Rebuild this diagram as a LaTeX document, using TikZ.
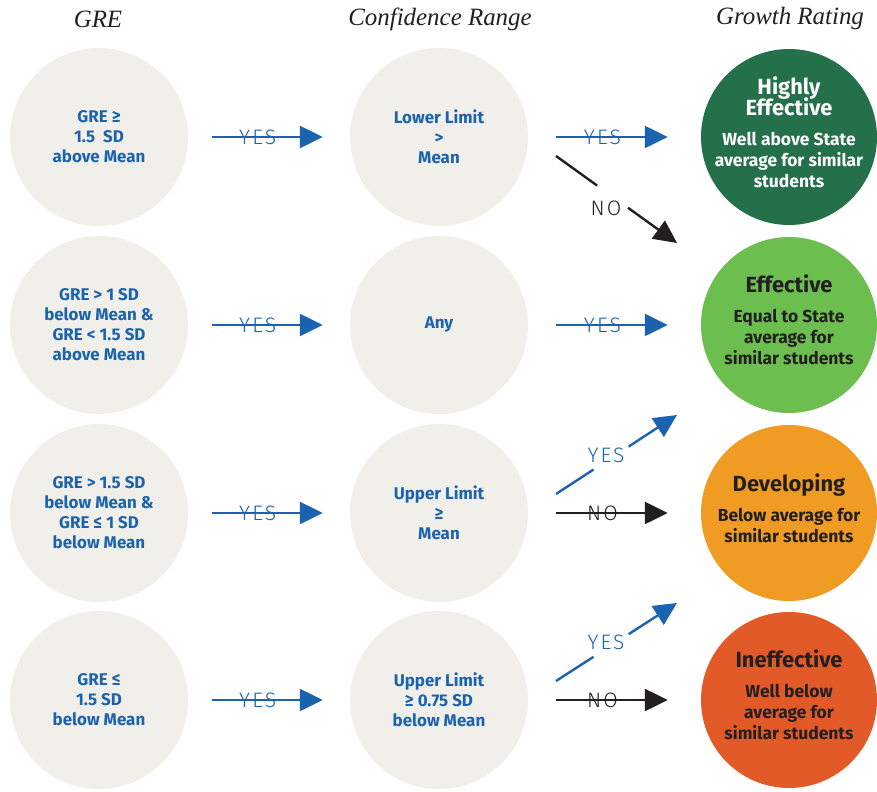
\documentclass[tikz,border=0pt]{standalone}
\usepackage{fontspec}
\setmainfont{Fira Sans}
\newfontfamily\titlefont{Liberation Serif}
\newfontfamily\labfont{Fira Sans Light}
\usetikzlibrary{arrows.meta,calc}
\definecolor{gblue}{HTML}{1B63AE}
\definecolor{gpale}{HTML}{F1EFE9}
\definecolor{gdark}{HTML}{231F20}
\definecolor{hegreen}{HTML}{23704A}
\definecolor{efgreen}{HTML}{6CBE4E}
\definecolor{dvorange}{HTML}{F09B23}
\definecolor{inred}{HTML}{E25A28}
\tikzset{
	crit/.style={circle,fill=gpale,minimum size=178bp,inner sep=0pt,text=gblue,align=center,
		font=\bfseries\fontsize{17}{20}\selectfont},
	rating/.style={circle,minimum size=176bp,inner sep=0pt},
	ratetext/.style={text=gdark,align=center,inner sep=0pt,
		font=\bfseries\fontsize{17.5}{21}\selectfont},
	colhead/.style={font=\titlefont\itshape\fontsize{25}{30}\selectfont,text=gdark},
	yesline/.style={draw=gblue,line width=2.4bp},
	noline/.style={draw=gdark,line width=2.4bp},
	yesarrow/.style={yesline,-{Triangle[length=23bp,width=22bp]}},
	noarrow/.style={noline,-{Triangle[length=23bp,width=22bp]}},
	yeslab/.style={text=gblue,font=\labfont\fontsize{21}{21}\selectfont\addfontfeature{LetterSpace=10}},
	nolab/.style={text=gdark,font=\labfont\fontsize{21}{21}\selectfont\addfontfeature{LetterSpace=10}}
}
\newcommand{\rhead}[1]{{\fontsize{22}{19}\selectfont #1}}

\begin{document}
\begin{tikzpicture}[x=1bp,y=-1bp]
	\useasboundingbox[fill=white] (0,0) rectangle (877,792);
	\node[colhead] (h1) at (98,19) {GRE};
	\node[colhead] (h2) at (440,19) {Confidence Range};
	\node[colhead] (h3) at (790,19) {Growth Rating};

	\node[crit] (g1) at (99,137) {GRE ≥\\1.5~~SD\\above Mean};
	\node[crit] (g2) at (99,325) {GRE > 1 SD\\below Mean \&\\GRE < 1.5 SD\\above Mean};
	\node[crit] (g3) at (99,513) {GRE > 1.5 SD\\below Mean \&\\GRE ≤ 1 SD\\below Mean};
	\node[crit] (g4) at (99,700) {GRE ≤\\1.5 SD\\below Mean};

	\node[crit] (c1) at (439,137) {Lower Limit\\>\\Mean};
	\node[crit] (c2) at (439,325) {Any};
	\node[crit] (c3) at (439,513) {Upper Limit\\≥\\Mean};
	\node[crit] (c4) at (439,700) {Upper Limit\\≥ 0.75 SD\\below Mean};

	\node[rating,fill=hegreen] (r1) at (789,137) {};
	\node[rating,fill=efgreen] (r2) at (789,325) {};
	\node[rating,fill=dvorange] (r3) at (789,513) {};
	\node[rating,fill=inred] (r4) at (789,700) {};
	\node[ratetext,text=white] (r1t) at ($(r1)+(0,-5)$)
		{\rhead{Highly}\\[-2bp]\rhead{Effective}\\[9bp]Well above State\\average for similar\\students};
	\node[ratetext] (r2t) at ($(r2)+(0,-5)$)
		{\rhead{Effective}\\[9bp]Equal to State\\average for\\similar students};
	\node[ratetext] (r3t) at ($(r3)+(0,-5)$)
		{\rhead{Developing}\\[9bp]Below average for\\similar students};
	\node[ratetext] (r4t) at ($(r4)+(0,-5)$)
		{\rhead{Ineffective}\\[9bp]Well below\\average for\\similar students};

	\foreach \i in {1,...,4}{
		\draw[yesarrow,shorten <=24bp,shorten >=27bp] (g\i) -- node[yeslab,pos=0.43]{YES} (c\i);
	}
	\draw[yesarrow,shorten <=28bp,shorten >=33bp] (c1) -- node[yeslab,pos=0.43]{YES} (r1);
	\draw[yesarrow,shorten <=28bp,shorten >=33bp] (c2) -- node[yeslab,pos=0.43]{YES} (r2);
	\draw[noarrow,shorten <=28bp,shorten >=33bp] (c3) -- node[nolab,pos=0.43]{NO} (r3);
	\draw[noarrow,shorten <=28bp,shorten >=33bp] (c4) -- node[nolab,pos=0.43]{NO} (r4);

	\coordinate (c1no) at (556,156);
	\coordinate (r2top) at (677,243);
	\draw[noline] (c1no) -- ($(c1no)!0.34!(r2top)$);
	\draw[noarrow] ($(c1no)!0.595!(r2top)$) -- (r2top);
	\node[nolab] (no1) at (606,208) {NO};

	\coordinate (c3yes) at (556,494);
	\coordinate (r2low) at (677,415);
	\draw[yesline] (c3yes) -- ($(c3yes)!0.31!(r2low)$);
	\draw[yesarrow] ($(c3yes)!0.6!(r2low)$) -- (r2low);
	\node[yeslab] (yes3) at (606,455) {YES};

	\coordinate (c4yes) at (556,681);
	\coordinate (r3low) at (677,603);
	\draw[yesline] (c4yes) -- ($(c4yes)!0.31!(r3low)$);
	\draw[yesarrow] ($(c4yes)!0.6!(r3low)$) -- (r3low);
	\node[yeslab] (yes4) at (606,642) {YES};
\end{tikzpicture}
\end{document}
